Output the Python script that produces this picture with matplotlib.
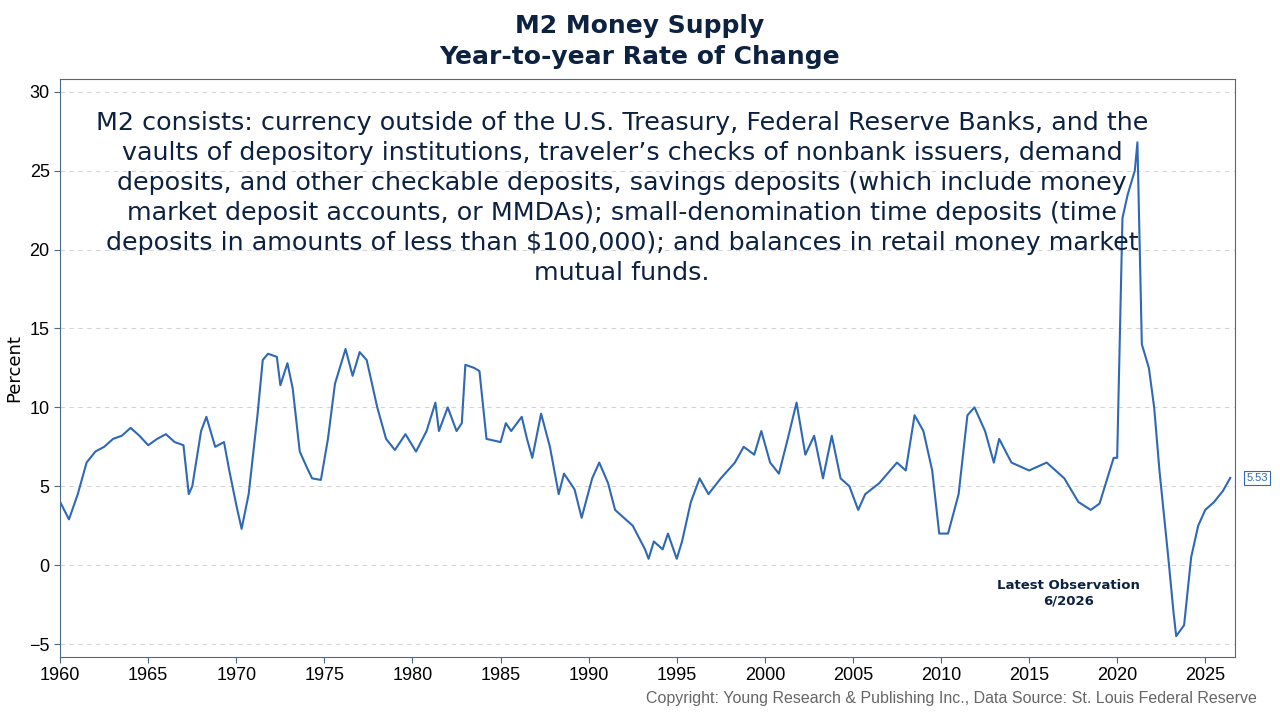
import matplotlib
matplotlib.use("Agg")
import matplotlib.pyplot as plt

plt.rcParams['font.family'] = ['Liberation Sans', 'DejaVu Sans']

# year-over-year % change of M2
years = [1960, 1960.5, 1961, 1961.5, 1962, 1962.5, 1963, 1963.5, 1964, 1964.5, 1965, 1965.5,
         1966, 1966.5, 1967, 1967.3, 1967.5, 1968, 1968.3, 1968.8, 1969.3, 1969.6, 1970, 1970.3,
         1970.7, 1971.2, 1971.5, 1971.8, 1972.3, 1972.5, 1972.9, 1973.2, 1973.6, 1974, 1974.3,
         1974.8, 1975.2, 1975.6, 1976.2, 1976.6, 1977, 1977.4, 1978, 1978.5, 1979, 1979.6, 1980.2,
         1980.8, 1981.3, 1981.5, 1982, 1982.5, 1982.8, 1983.0, 1983.5, 1983.8, 1984.2, 1985.0,
         1985.3, 1985.6, 1986.2, 1986.5, 1986.8, 1987.3, 1987.8, 1988.3, 1988.6, 1989.2, 1989.6,
         1990.2, 1990.6, 1991.1, 1991.5, 1992, 1992.5, 1993.2, 1993.4, 1993.7, 1994.2, 1994.5,
         1995.0, 1995.3, 1995.8, 1996.3, 1996.8, 1997.5, 1998.3, 1998.8, 1999.4, 1999.8, 2000.3,
         2000.8, 2001.3, 2001.8, 2002.3, 2002.8, 2003.3, 2003.8, 2004.3, 2004.8, 2005.3, 2005.7,
         2006.5, 2007.5, 2008.0, 2008.5, 2009.0, 2009.5, 2009.9, 2010.4, 2011.0, 2011.5, 2011.9,
         2012.5, 2013.0, 2013.3, 2014, 2015, 2016, 2017, 2017.8, 2018.5, 2019, 2019.8, 2020.0,
         2020.3, 2020.6, 2021.0, 2021.15, 2021.4, 2021.8, 2022.1, 2022.4, 2022.9, 2023.2, 2023.35,
         2023.8, 2024.2, 2024.6, 2025.0, 2025.5, 2026.0, 2026.42]
values = [4.0, 2.9, 4.5, 6.5, 7.2, 7.5, 8.0, 8.2, 8.7, 8.2, 7.6, 8.0,
          8.3, 7.8, 7.6, 4.5, 5.0, 8.5, 9.4, 7.5, 7.8, 6.0, 3.8, 2.3,
          4.5, 9.5, 13.0, 13.4, 13.2, 11.4, 12.8, 11.2, 7.2, 6.2, 5.5,
          5.4, 8.0, 11.5, 13.7, 12.0, 13.5, 13.0, 10.0, 8.0, 7.3, 8.3, 7.2,
          8.5, 10.3, 8.5, 10.0, 8.5, 9.0, 12.7, 12.5, 12.3, 8.0, 7.8,
          9.0, 8.5, 9.4, 8.0, 6.8, 9.6, 7.5, 4.5, 5.8, 4.8, 3.0,
          5.5, 6.5, 5.2, 3.5, 3.0, 2.5, 1.0, 0.4, 1.5, 1.0, 2.0,
          0.4, 1.5, 4.0, 5.5, 4.5, 5.5, 6.5, 7.5, 7.0, 8.5, 6.5,
          5.8, 8.0, 10.3, 7.0, 8.2, 5.5, 8.2, 5.5, 5.0, 3.5, 4.5,
          5.2, 6.5, 6.0, 9.5, 8.5, 6.0, 2.0, 2.0, 4.5, 9.5, 10.0,
          8.5, 6.5, 8.0, 6.5, 6.0, 6.5, 5.5, 4.0, 3.5, 3.9, 6.8, 6.8,
          22.0, 23.5, 25.0, 26.8, 14.0, 12.5, 10.0, 6.0, 0.5, -3.0, -4.5,
          -3.8, 0.5, 2.5, 3.5, 4.0, 4.7, 5.53]

navy = "#0d2240"
line_blue = "#2f68b4"
spine = "#4a6a8a"

fig = plt.figure(figsize=(12.8, 7.2), dpi=100)
ax = fig.add_axes([0.047, 0.088, 0.918, 0.802])
ax.plot(years, values, color=line_blue, lw=1.5)

ax.set_xlim(1960, 2026.7)
ax.set_ylim(-5.8, 30.8)
ax.set_xticks(range(1960, 2030, 5))
ax.set_yticks(range(-5, 35, 5))
ax.tick_params(labelsize=13, length=4, color=spine)
ax.yaxis.grid(True, ls=(0, (4, 4)), color="#d5d5d5", lw=0.8)
for s in ax.spines.values():
    s.set_color(spine)
ax.set_ylabel("Percent", fontsize=13, family=['DejaVu Sans'])

fig.suptitle("M2 Money Supply\nYear-to-year Rate of Change", y=0.98, fontsize=18,
             fontweight="bold", color=navy, linespacing=1.35, family=['DejaVu Sans'])

note = ("M2 consists: currency outside of the U.S. Treasury, Federal Reserve Banks, and the\n"
        "vaults of depository institutions, traveler\u2019s checks of nonbank issuers, demand\n"
        "deposits, and other checkable deposits, savings deposits (which include money\n"
        "market deposit accounts, or MMDAs); small-denomination time deposits (time\n"
        "deposits in amounts of less than $100,000); and balances in retail money market\n"
        "mutual funds.")
ax.text(0.478, 0.945, note, transform=ax.transAxes, ha="center", va="top",
        fontsize=18.3, color=navy, linespacing=1.32, family=['DejaVu Sans'])

ax.text(0.858, 0.11, "Latest Observation\n6/2026", transform=ax.transAxes, ha="center",
        va="center", fontsize=9.5, fontweight="bold", color=navy, family=['DejaVu Sans'])

ax.annotate("%.2f" % values[-1], xy=(1, values[-1]), xycoords=("axes fraction", "data"),
            xytext=(8, 0), textcoords="offset points", va="center", fontsize=8,
            color=line_blue, bbox=dict(boxstyle="square,pad=0.2", fc="white", ec=line_blue, lw=0.8))

fig.text(0.982, 0.023, "Copyright: Young Research & Publishing Inc., Data Source: St. Louis Federal Reserve",
         ha="right", fontsize=11.5, color="#666666")

fig.savefig("out.png")
